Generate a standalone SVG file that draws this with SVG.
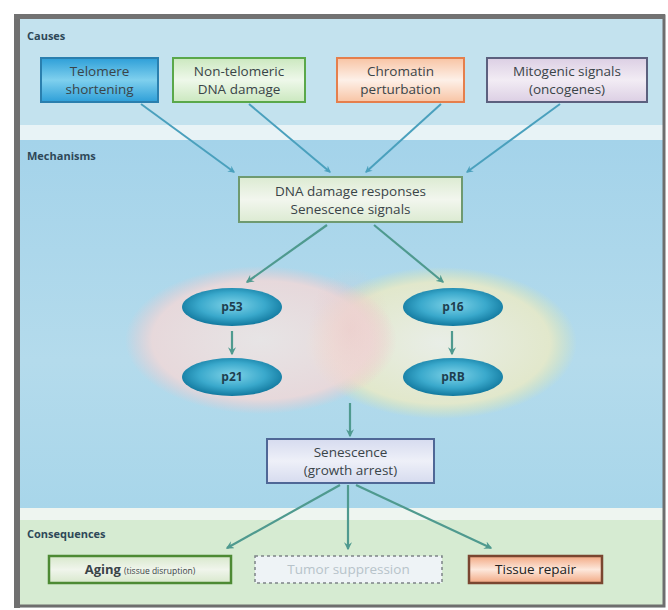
<svg xmlns="http://www.w3.org/2000/svg" width="668" height="610" viewBox="0 0 668 610">
<defs>
<style>
.lbl{font-family:"Open Sans","Liberation Sans",sans-serif;font-weight:bold;font-size:11px;fill:#2e4858}
.t{font-family:"Open Sans","Liberation Sans",sans-serif;font-size:13.5px;fill:#3a4448;text-anchor:middle}
.pt{font-family:"Open Sans","Liberation Sans",sans-serif;font-size:12px;font-weight:bold;fill:#1d3f50;text-anchor:middle}
.top{stroke:#4aa0bd;stroke-width:2;fill:none;marker-end:url(#ah1)}
.low{stroke:#4f9a8f;stroke-width:2.2;fill:none;marker-end:url(#ah2)}
</style>
<marker id="ah1" viewBox="0 0 12 12" refX="10" refY="6" markerWidth="7" markerHeight="7" orient="auto" markerUnits="userSpaceOnUse">
<path d="M0,0 L12,6 L0,12 L4,6 z" fill="#4aa0bd"/>
</marker>
<marker id="ah2" viewBox="0 0 12 12" refX="10" refY="6" markerWidth="8" markerHeight="8" orient="auto" markerUnits="userSpaceOnUse">
<path d="M0,0 L12,6 L0,12 L4,6 z" fill="#4f9a8f"/>
</marker>
<linearGradient id="gBlue" x1="0" y1="0" x2="0" y2="1">
<stop offset="0" stop-color="#2e9fd8"/><stop offset="0.5" stop-color="#7fd0ee"/><stop offset="1" stop-color="#2e9fd8"/>
</linearGradient>
<linearGradient id="gGreen" x1="0" y1="0" x2="0" y2="1">
<stop offset="0" stop-color="#cbe8bf"/><stop offset="0.5" stop-color="#eef8ea"/><stop offset="1" stop-color="#cbe8bf"/>
</linearGradient>
<linearGradient id="gOrange" x1="0" y1="0" x2="0" y2="1">
<stop offset="0" stop-color="#f8c4a4"/><stop offset="0.5" stop-color="#fdf0e8"/><stop offset="1" stop-color="#f8c4a4"/>
</linearGradient>
<linearGradient id="gPurple" x1="0" y1="0" x2="0" y2="1">
<stop offset="0" stop-color="#dccfe4"/><stop offset="0.5" stop-color="#f2ecf4"/><stop offset="1" stop-color="#dccfe4"/>
</linearGradient>
<linearGradient id="gDna" x1="0" y1="0" x2="0" y2="1">
<stop offset="0" stop-color="#dcebd2"/><stop offset="0.5" stop-color="#f2f6ee"/><stop offset="1" stop-color="#dcebd2"/>
</linearGradient>
<linearGradient id="gSen" x1="0" y1="0" x2="0" y2="1">
<stop offset="0" stop-color="#d6dbef"/><stop offset="0.5" stop-color="#eef0f8"/><stop offset="1" stop-color="#d6dbef"/>
</linearGradient>
<linearGradient id="gRepair" x1="0" y1="0" x2="0" y2="1">
<stop offset="0" stop-color="#f2a882"/><stop offset="0.5" stop-color="#fde8dc"/><stop offset="1" stop-color="#f2a882"/>
</linearGradient>
<linearGradient id="gAging" x1="0" y1="0" x2="0" y2="1">
<stop offset="0" stop-color="#d8e8cc"/><stop offset="0.5" stop-color="#f0f5ec"/><stop offset="1" stop-color="#d8e8cc"/>
</linearGradient>
<linearGradient id="gMech" x1="0" y1="0" x2="0" y2="1">
<stop offset="0" stop-color="#a4d3ea"/><stop offset="0.6" stop-color="#b4dbec"/><stop offset="1" stop-color="#a8d6ea"/>
</linearGradient>
<radialGradient id="gP" cx="0.5" cy="0.45" r="0.55">
<stop offset="0" stop-color="#7fd3e8"/><stop offset="0.6" stop-color="#3aa9cc"/><stop offset="1" stop-color="#11789e"/>
</radialGradient>
<radialGradient id="gPink" cx="0.5" cy="0.5" r="0.5">
<stop offset="0" stop-color="#f0e6e4" stop-opacity="0.85"/><stop offset="0.8" stop-color="#f0d8d8" stop-opacity="0.85"/><stop offset="1" stop-color="#f0c8cc" stop-opacity="0"/>
</radialGradient>
<radialGradient id="gYel" cx="0.5" cy="0.5" r="0.5">
<stop offset="0" stop-color="#f2f1e6" stop-opacity="0.85"/><stop offset="0.8" stop-color="#eaeac6" stop-opacity="0.85"/><stop offset="1" stop-color="#e2e8a8" stop-opacity="0"/>
</radialGradient>
<radialGradient id="gOver" cx="0.5" cy="0.5" r="0.5">
<stop offset="0" stop-color="#eac4c4" stop-opacity="0.45"/><stop offset="1" stop-color="#eac4c4" stop-opacity="0"/>
</radialGradient>
</defs>

<g id="background">
<rect x="0" y="0" width="668" height="610" fill="#ffffff"/>
<rect x="14" y="14" width="651" height="594" fill="#eaf2f2"/>
<rect x="20" y="19" width="644" height="106" fill="#c3e2ee"/>
<rect x="20" y="125" width="644" height="15" fill="#e8f3f6"/>
<rect x="20" y="140" width="644" height="368" fill="url(#gMech)"/>
<rect x="20" y="508" width="644" height="12" fill="#eef5f0"/>
<rect x="20" y="520" width="644" height="85" fill="#d6ebd2"/>
<rect x="16" y="16" width="648" height="590" fill="none" stroke="#6e6e6e" stroke-width="3"/>
<rect x="14" y="14" width="6" height="594" fill="#707070"/>
<rect x="14" y="14" width="651" height="5" fill="#727272"/>
<text class="lbl" x="27" y="40">Causes</text>
<text class="lbl" x="27" y="160">Mechanisms</text>
<text class="lbl" x="27" y="538">Consequences</text>
</g>

<g id="overlap-ellipses">
<ellipse cx="441" cy="343" rx="136" ry="76" fill="url(#gYel)"/>
<ellipse cx="261" cy="340" rx="136" ry="74" fill="url(#gPink)"/>
<ellipse cx="350" cy="330" rx="42" ry="62" fill="url(#gOver)"/>
</g>

<g id="connectors">
<line class="top" x1="141" y1="104" x2="234" y2="172"/>
<line class="top" x1="249" y1="104" x2="330" y2="172"/>
<line class="top" x1="441" y1="104" x2="366" y2="172"/>
<line class="top" x1="560" y1="104" x2="467" y2="172"/>
<line class="low" x1="327" y1="225" x2="247" y2="282"/>
<line class="low" x1="374" y1="225" x2="443" y2="282"/>
<line class="low" x1="232" y1="331" x2="232" y2="354"/>
<line class="low" x1="452" y1="331" x2="452" y2="354"/>
<line class="low" x1="350" y1="403" x2="350" y2="436"/>
<line class="low" x1="340" y1="485" x2="227" y2="548"/>
<line class="low" x1="348" y1="485" x2="348" y2="549"/>
<line class="low" x1="356" y1="485" x2="491" y2="548"/>
</g>

<g id="telomere">
<rect x="41" y="58" width="117" height="44" fill="url(#gBlue)" stroke="#2a7fae" stroke-width="2"/>
<text class="t" x="99.5" y="76" fill="#1e3a58">Telomere</text>
<text class="t" x="99.5" y="94">shortening</text>
</g>
<g id="nontelomeric">
<rect x="173" y="58" width="132" height="44" fill="url(#gGreen)" stroke="#5aa84a" stroke-width="2"/>
<text class="t" x="239" y="76">Non-telomeric</text>
<text class="t" x="239" y="94">DNA damage</text>
</g>
<g id="chromatin">
<rect x="337" y="58" width="127" height="44" fill="url(#gOrange)" stroke="#e57f4c" stroke-width="2"/>
<text class="t" x="400.5" y="76">Chromatin</text>
<text class="t" x="400.5" y="94">perturbation</text>
</g>
<g id="mitogenic">
<rect x="487" y="58" width="160" height="44" fill="url(#gPurple)" stroke="#5c607e" stroke-width="2"/>
<text class="t" x="567" y="76">Mitogenic signals</text>
<text class="t" x="567" y="94">(oncogenes)</text>
</g>

<g id="dna-damage">
<rect x="239" y="177" width="223" height="45" fill="url(#gDna)" stroke="#6f9a70" stroke-width="2"/>
<text class="t" x="350.5" y="196">DNA damage responses</text>
<text class="t" x="350.5" y="214">Senescence signals</text>
</g>

<g id="p53">
<ellipse cx="232" cy="307" rx="50" ry="19" fill="url(#gP)"/>
<text class="pt" x="232" y="311">p53</text>
</g>
<g id="p21">
<ellipse cx="232" cy="377" rx="50" ry="19" fill="url(#gP)"/>
<text class="pt" x="232" y="381">p21</text>
</g>
<g id="p16">
<ellipse cx="453" cy="307" rx="50" ry="19" fill="url(#gP)"/>
<text class="pt" x="453" y="311">p16</text>
</g>
<g id="pRB">
<ellipse cx="453" cy="377" rx="50" ry="19" fill="url(#gP)"/>
<text class="pt" x="453" y="381">pRB</text>
</g>

<g id="senescence">
<rect x="267" y="439" width="167" height="44" fill="url(#gSen)" stroke="#4f6796" stroke-width="2"/>
<text class="t" x="350.5" y="457">Senescence</text>
<text class="t" x="350.5" y="475">(growth arrest)</text>
</g>

<g id="aging">
<rect x="49" y="556" width="182" height="27" fill="url(#gAging)" stroke="#4d8a34" stroke-width="2.5"/>
<text class="t" x="140" y="574"><tspan font-weight="bold" font-size="13">Aging</tspan><tspan font-size="8.5" dx="3">(tissue disruption)</tspan></text>
</g>
<g id="tumor">
<rect x="255" y="556" width="187" height="27" fill="#eef3f6" stroke="#7d8488" stroke-width="1.5" stroke-dasharray="3,3"/>
<text class="t" x="348.5" y="574" style="fill:#b7c3ca">Tumor suppression</text>
</g>
<g id="repair">
<rect x="469" y="556" width="133" height="27" fill="url(#gRepair)" stroke="#7a4630" stroke-width="2.5"/>
<text class="t" x="535.5" y="574" style="fill:#222">Tissue repair</text>
</g>
</svg>
